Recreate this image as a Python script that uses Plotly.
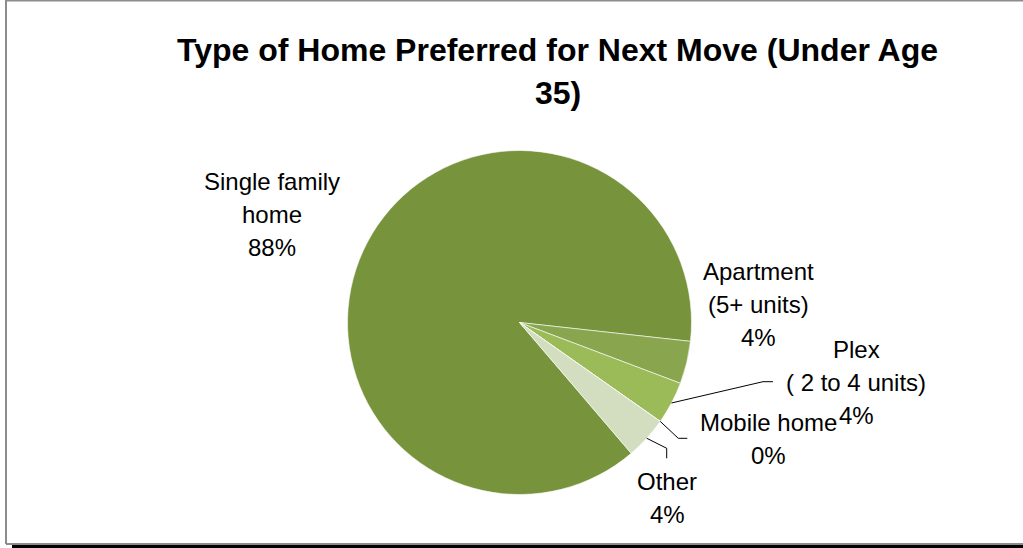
import numpy as np
import plotly.graph_objects as go

# ---- data -------------------------------------------------------------
categories = [
    "Single family home",
    "Apartment (5+ units)",
    "Plex ( 2 to 4 units)",
    "Mobile home",
    "Other",
]
shares = [88, 4, 4, 0, 4]  # percent of respondents under age 35
label_lines = [
    ["Single family", "home"],
    ["Apartment", "(5+ units)"],
    ["Plex", "( 2 to 4 units)"],
    ["Mobile home"],
    ["Other"],
]
title_lines = ["Type of Home Preferred for Next Move (Under Age", "35)"]
colors = ["#77933C", "#89A54E", "#9BBB59", "#C3D69B", "#D2DEBF"]

# ---- geometry (pixels, y measured downward) ---------------------------
W, H = 1023, 548
cx, cy, R = 519.5, 322.5, 172
start_angle = 139.5  # clockwise from 12 o'clock
line_gap = 33
FONT = "Liberation Sans, Arial, sans-serif"

# label block: (centre x, centre y of first line)
label_pos = [(272, 181), (758, 271), (856, 349), (768, 422), (667, 481)]
# leader lines: elbow points after leaving the pie edge (None = no leader)
leaders = [
    None,
    None,
    [(763, 381.7), (773, 381.7)],
    [(678.3, 438.3), (687.3, 438.3)],
    [(666.7, 448.3), (666.7, 458.3)],
]


def px(x):
    return x / W


def py(y):
    return 1 - y / H


fig = go.Figure(
    go.Pie(
        labels=categories,
        values=shares,
        sort=False,
        direction="clockwise",
        rotation=start_angle,
        marker=dict(colors=colors, line=dict(color="white", width=0.6)),
        textinfo="none",
        hoverinfo="label+percent",
        showlegend=False,
        domain=dict(
            x=[px(cx - R), px(cx + R)],
            y=[py(cy + R), py(cy - R)],
        ),
    )
)

annotations = []
# chart title, one annotation per line
for k, txt in enumerate(title_lines):
    annotations.append(
        dict(
            x=px(557.5), y=py(50 + k * 43), xref="paper", yref="paper",
            text=f"<b>{txt}</b>", showarrow=False,
            xanchor="center", yanchor="middle",
            font=dict(family=FONT, size=32, color="#000000"),
        )
    )

total = float(sum(shares))
cum = np.concatenate([[0.0], np.cumsum(shares)])
shapes = []
for i, name in enumerate(categories):
    pct = int(round(100 * shares[i] / total))
    lines = label_lines[i] + [f"{pct}%"]
    lx, ly = label_pos[i]
    for k, txt in enumerate(lines):
        annotations.append(
            dict(
                x=px(lx), y=py(ly + k * line_gap),
                xref="paper", yref="paper",
                text=txt, showarrow=False,
                xanchor="center", yanchor="middle",
                font=dict(family=FONT, size=24, color="#000000"),
            )
        )
    if leaders[i] is not None:
        mid = np.radians(start_angle + 360 * (cum[i] + shares[i] / 2) / total)
        ex, ey = cx + R * np.sin(mid), cy - R * np.cos(mid)
        pts = [(ex, ey)] + leaders[i]
        path = "M " + " L ".join(f"{px(x):.5f},{py(y):.5f}" for x, y in pts)
        shapes.append(
            dict(type="path", path=path, xref="paper", yref="paper",
                 line=dict(color="#000000", width=1))
        )

# chart frame: grey border with a dark bottom edge
shapes += [
    dict(type="line", xref="paper", yref="paper", x0=px(6), x1=px(6),
         y0=py(0), y1=py(544), line=dict(color="#8C8C8C", width=2)),
    dict(type="line", xref="paper", yref="paper", x0=px(6), x1=1,
         y0=py(0.5), y1=py(0.5), line=dict(color="#8C8C8C", width=2)),
    dict(type="line", xref="paper", yref="paper", x0=px(6), x1=1,
         y0=py(544), y1=py(544), line=dict(color="#8C8C8C", width=2)),
    dict(type="rect", xref="paper", yref="paper", x0=px(12), x1=1,
         y0=py(548), y1=py(545), fillcolor="#000000", line=dict(width=0)),
]

fig.update_layout(
    width=W,
    height=H,
    margin=dict(l=0, r=0, t=0, b=0),
    paper_bgcolor="white",
    plot_bgcolor="white",
    annotations=annotations,
    shapes=shapes,
)

fig.write_html("out.html")
